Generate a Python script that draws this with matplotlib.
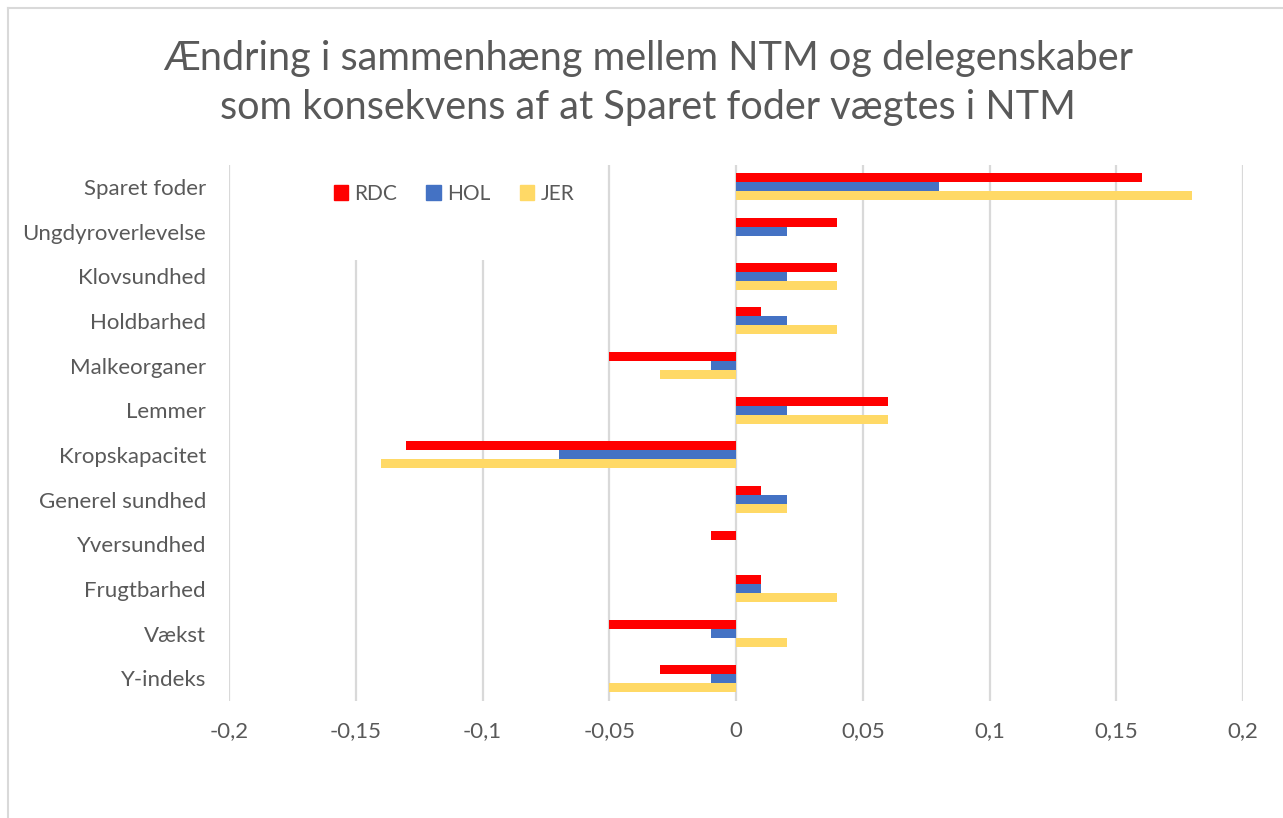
import numpy as np
import matplotlib
matplotlib.use("Agg")
from matplotlib import pyplot as plt
from matplotlib.patches import Rectangle
from matplotlib.lines import Line2D

plt.rcParams['font.family'] = ['Lato', 'DejaVu Sans']

categories = ['Sparet foder', 'Ungdyroverlevelse', 'Klovsundhed', 'Holdbarhed',
              'Malkeorganer', 'Lemmer', 'Kropskapacitet', 'Generel sundhed',
              'Yversundhed', 'Frugtbarhed', 'Vækst', 'Y-indeks']
rdc = [0.16, 0.04, 0.04, 0.01, -0.05, 0.06, -0.13, 0.01, -0.01, 0.01, -0.05, -0.03]
hol = [0.08, 0.02, 0.02, 0.02, -0.01, 0.02, -0.07, 0.02, 0.0, 0.01, -0.01, -0.01]
jer = [0.18, 0.0, 0.04, 0.04, -0.03, 0.06, -0.14, 0.02, 0.0, 0.04, 0.02, -0.05]
xticks = [-0.2, -0.15, -0.1, -0.05, 0, 0.05, 0.1, 0.15, 0.2]
xlabels = ['-0,2', '-0,15', '-0,1', '-0,05', '0', '0,05', '0,1', '0,15', '0,2']

W, H = 1283, 818
txt = '#595959'
grid = '#d9d9d9'

fig = plt.figure(figsize=(W / 100, H / 100), dpi=100)
ax = fig.add_axes([229 / W, 1 - 700.5 / H, (1243 - 229) / W, (700.5 - 164.5) / H])

y = np.arange(len(categories))
bh = 0.2
ax.barh(y - bh, rdc, height=bh, color='#FF0000', label='RDC', zorder=3)
ax.barh(y, hol, height=bh, color='#4472C4', label='HOL', zorder=3)
ax.barh(y + bh, jer, height=bh, color='#FFD966', label='JER', zorder=3)

ax.set_xlim(-0.2, 0.2)
ax.set_ylim(len(categories) - 0.5, -0.5)
ax.set_xticks(xticks)
ax.set_xticklabels(xlabels)
ax.set_yticks(y)
ax.set_yticklabels(categories)
ax.tick_params(axis='both', length=0, colors=txt, labelsize=16)
ax.tick_params(axis='x', pad=15)
ax.tick_params(axis='y', pad=16.5)
for s in ax.spines.values():
    s.set_visible(False)
ax.xaxis.grid(True, color=grid, linewidth=1.6, zorder=0)
ax.set_axisbelow(True)

# legend box hides part of the gridlines
fig.patches.append(Rectangle((300 / W, 1 - 260 / H), 290 / W, 96 / H,
                             transform=fig.transFigure, facecolor='white',
                             edgecolor='none', zorder=2))
handles = [Rectangle((0, 0), 1, 1, color=c) for c in ['#FF0000', '#4472C4', '#FFD966']]
leg = fig.legend(handles, ['RDC', 'HOL', 'JER'], loc='center', ncol=3,
                 bbox_to_anchor=(454 / W, 1 - 194 / H), frameon=False,
                 fontsize=15, handlelength=0.7, handleheight=0.7,
                 handletextpad=0.3, columnspacing=1.4, borderpad=0)
for t in leg.get_texts():
    t.set_color(txt)

fig.text(648 / W, 1 - 83 / H,
         'Ændring i sammenhæng mellem NTM og delegenskaber\nsom konsekvens af at Sparet foder vægtes i NTM',
         ha='center', va='center', fontsize=28.5, color=txt, linespacing=1.38)

# chart frame
fig.lines.append(Line2D([7.5 / W, 7.5 / W], [0, 1 - 7.5 / H], transform=fig.transFigure,
                        color=grid, linewidth=1.5))
fig.lines.append(Line2D([7.5 / W, 1], [1 - 7.5 / H, 1 - 7.5 / H], transform=fig.transFigure,
                        color=grid, linewidth=1.5))

fig.savefig('out.png', dpi=100)
